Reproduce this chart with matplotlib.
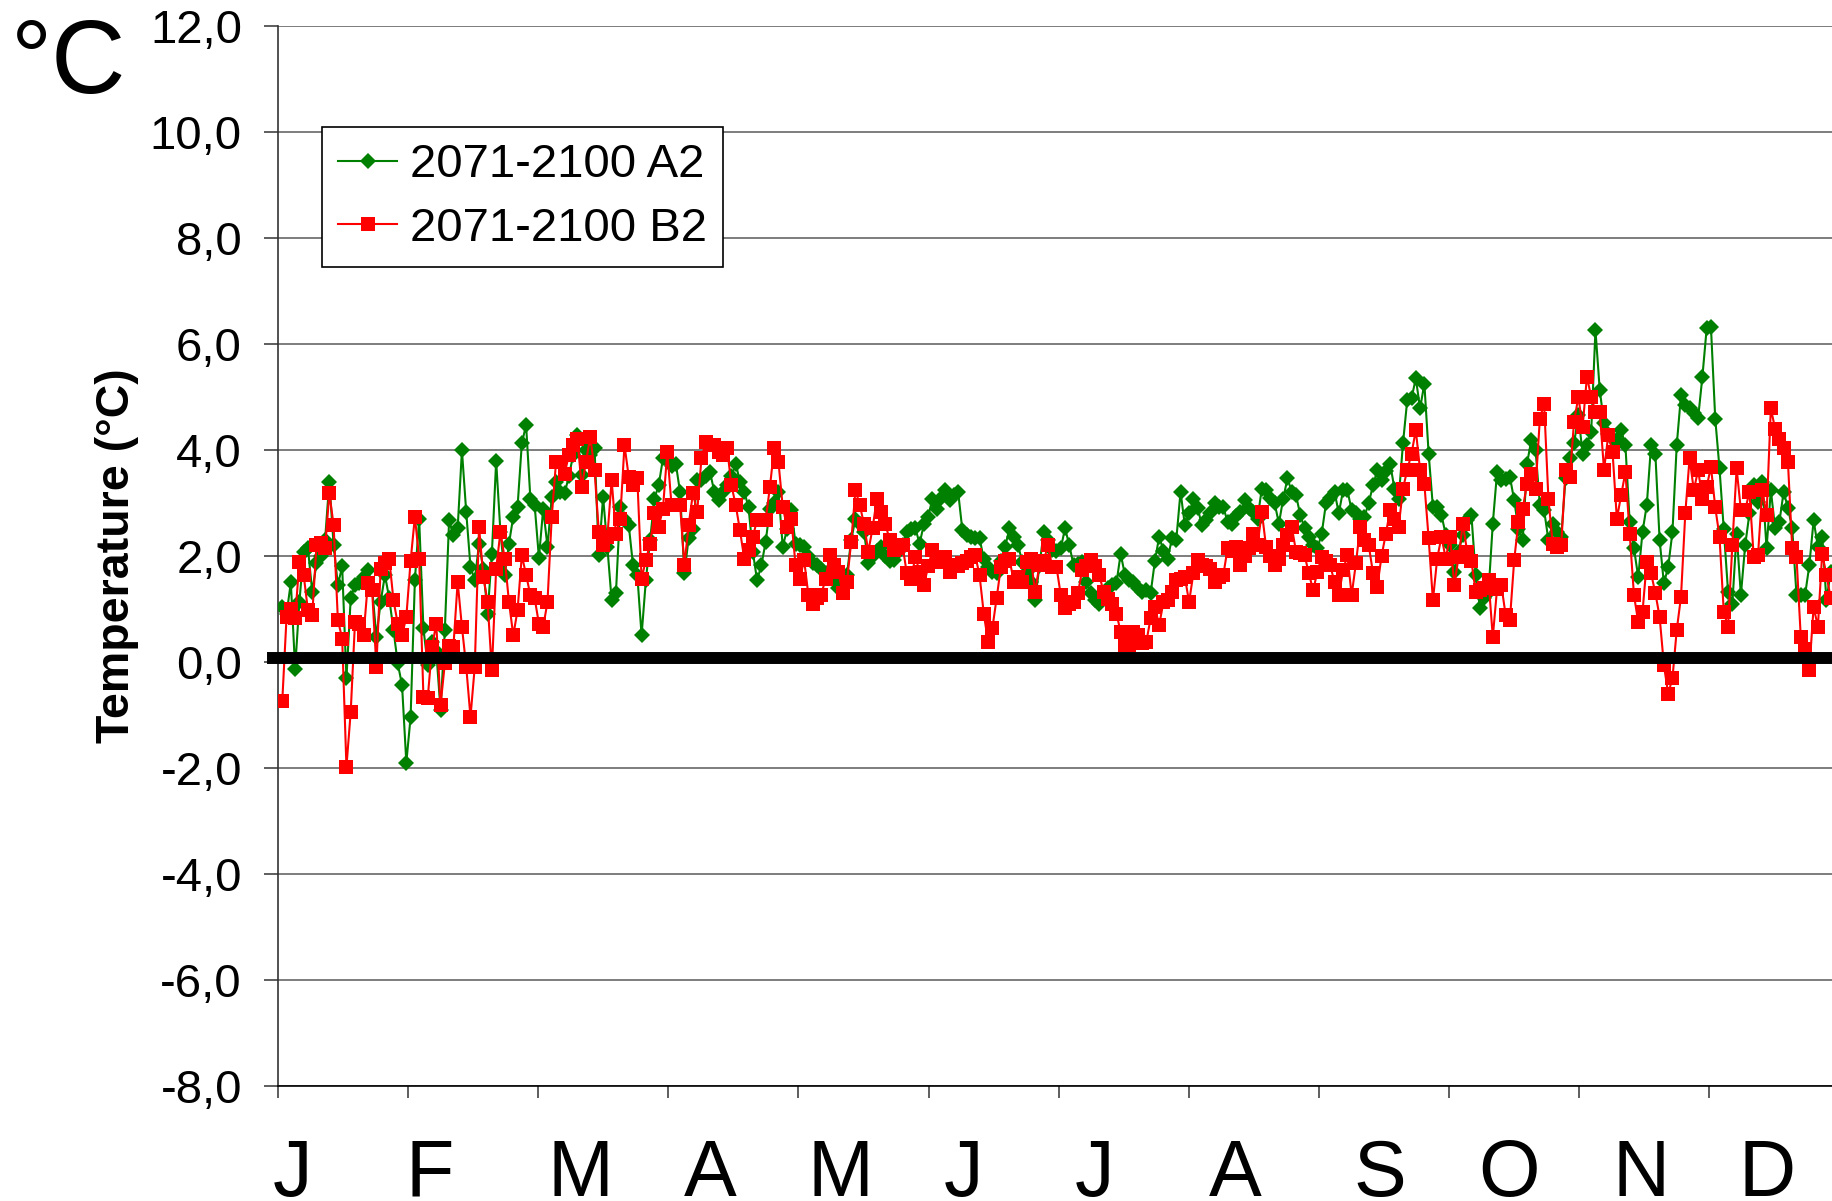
import numpy as np
import matplotlib
matplotlib.use("Agg")
import matplotlib.pyplot as plt
from matplotlib.transforms import blended_transform_factory

# month letters on the x axis
months = ['J', 'F', 'M', 'A', 'M', 'J', 'J', 'A', 'S', 'O', 'N', 'D']
y_ticks = [-8, -6, -4, -2, 0, 2, 4, 6, 8, 10, 12]
series_names = ['2071-2100 A2', '2071-2100 B2']

# daily values (°C)
a2 = [
    1.04, 0.9, 1.5, -0.13, 1.13, 2.08, 2.14, 1.32, 1.86, 2.0,
    2.3, 3.4, 2.2, 1.45, 1.8, -0.31, 1.2, 1.45, 1.48, 1.6,
    1.73, 1.4, 0.47, 1.13, 1.64, 1.2, 0.6, -0.03, -0.44, -1.9,
    -1.04, 1.54, 2.7, 0.63, -0.06, 0.38, 0.2, -0.91, 0.6, 2.67,
    2.39, 2.52, 3.99, 2.83, 1.79, 1.54, 2.23, 1.76, 0.91, 2.04,
    3.79, 2.45, 1.64, 2.23, 2.74, 2.92, 4.12, 4.47, 3.08, 2.96,
    1.96, 2.89, 2.17, 3.11, 3.4, 3.2, 3.18, 3.5, 3.9, 4.28,
    3.52, 3.99, 3.9, 4.03, 2.01, 3.11, 2.17, 1.16, 1.29, 2.92,
    2.7, 2.58, 1.82, 1.64, 0.5, 1.54, 2.3, 3.08, 3.33, 3.84,
    3.8, 3.7, 3.74, 3.2, 1.67, 2.33, 2.5, 3.43, 3.43, 3.5,
    3.58, 3.21, 3.05, 3.2, 3.33, 3.5, 3.74, 3.4, 3.21, 2.92,
    2.08, 1.54, 1.82, 2.26, 2.89, 3.0, 3.21, 2.17, 2.5, 2.86,
    2.23, 2.2, 2.17, 2.0, 1.86, 1.82, 1.75, 1.67, 1.6, 1.57,
    1.4, 1.5, 1.64, 2.3, 2.7, 2.6, 2.45, 1.86, 2.0, 2.1,
    2.17, 2.0, 1.9, 1.92, 2.08, 2.2, 2.45, 2.5, 2.52, 2.23,
    2.6, 2.74, 3.08, 2.89, 3.1, 3.24, 3.05, 3.15, 3.21, 2.48,
    2.39, 2.35, 2.33, 2.33, 1.95, 1.79, 1.7, 1.67, 1.9, 2.17,
    2.52, 2.35, 2.2, 1.89, 1.7, 1.5, 1.16, 1.8, 2.45, 2.3,
    2.11, 2.1, 2.14, 2.52, 2.2, 1.82, 1.85, 1.89, 1.5, 1.3,
    1.16, 1.1, 1.25, 1.4, 1.45, 1.48, 2.04, 1.64, 1.55, 1.51,
    1.4, 1.32, 1.35, 1.29, 1.9, 2.36, 2.1, 1.95, 2.33, 2.3,
    3.21, 2.58, 2.8, 3.08, 2.9, 2.58, 2.67, 2.8, 2.99, 2.92,
    2.92, 2.64, 2.61, 2.75, 2.83, 3.05, 2.9, 2.83, 2.7, 3.27,
    3.24, 3.1, 2.99, 2.61, 3.08, 3.46, 3.21, 3.14, 2.77, 2.52,
    2.36, 2.2, 2.14, 2.42, 2.99, 3.1, 3.21, 2.8, 3.24, 3.24,
    2.86, 2.8, 2.7, 2.74, 3.0, 3.33, 3.62, 3.43, 3.6, 3.74,
    3.27, 3.08, 4.12, 4.94, 4.97, 5.35, 4.78, 5.25, 3.93, 2.92,
    2.92, 2.77, 2.4, 2.2, 1.7, 2.08, 2.4, 2.67, 2.77, 1.64,
    1.01, 1.2, 1.32, 2.61, 3.58, 3.43, 3.45, 3.49, 3.05, 2.5,
    2.3, 3.74, 4.18, 4.0, 2.96, 2.86, 2.3, 2.61, 2.45, 2.36,
    3.46, 3.84, 4.12, 4.65, 3.93, 4.1, 4.34, 6.26, 5.13, 4.5,
    4.3, 4.21, 4.18, 4.37, 4.09, 2.64, 2.14, 1.6, 2.45, 2.96,
    4.09, 3.93, 2.3, 1.48, 1.79, 2.45, 4.09, 5.03, 4.84, 4.78,
    4.69, 4.6, 5.38, 6.29, 6.32, 4.59, 3.65, 2.5, 1.32, 1.1,
    2.42, 1.26, 2.2, 2.8, 3.33, 3.02, 3.4, 2.14, 3.24, 2.52,
    2.64, 3.21, 2.9, 2.52, 1.26, 1.26, 1.26, 1.82, 2.67, 2.17,
    2.36, 1.16, 1.7,
]

b2 = [
    -0.74, 0.85, 1.0, 0.82, 1.89, 1.64, 0.97, 0.88, 2.2, 2.25,
    2.14, 3.18, 2.58, 0.79, 0.44, -1.98, -0.94, 0.75, 0.72, 0.5,
    1.48, 1.35, -0.09, 1.76, 1.86, 1.95, 1.16, 0.72, 0.5, 0.85,
    1.9, 2.74, 1.95, -0.66, -0.69, 0.28, 0.72, -0.82, -0.03, 0.3,
    0.28, 1.51, 0.66, -0.09, -1.04, -0.09, 2.55, 1.6, 1.13, -0.16,
    1.76, 2.45, 1.95, 1.13, 0.5, 0.97, 2.01, 1.64, 1.26, 1.2,
    0.72, 0.66, 1.13, 2.74, 3.77, 3.77, 3.55, 3.9, 4.1, 4.21,
    3.3, 3.77, 4.25, 3.62, 2.45, 2.2, 2.36, 3.43, 2.42, 2.7,
    4.09, 3.49, 3.33, 3.46, 1.57, 1.92, 2.23, 2.8, 2.55, 2.89,
    3.96, 2.96, 2.96, 2.96, 1.82, 2.58, 3.18, 2.83, 3.84, 4.15,
    4.1, 4.09, 3.95, 3.9, 4.03, 3.33, 2.96, 2.48, 1.95, 2.11,
    2.36, 2.67, 2.67, 2.67, 3.3, 4.03, 3.77, 2.92, 2.55, 2.7,
    1.82, 1.57, 1.92, 1.26, 1.1, 1.2, 1.26, 1.57, 2.01, 1.82,
    1.7, 1.29, 1.5, 2.26, 3.24, 2.96, 2.6, 2.08, 2.52, 3.08,
    2.83, 2.6, 2.3, 2.11, 2.15, 2.2, 1.67, 1.57, 1.98, 1.7,
    1.45, 1.8, 2.11, 1.89, 1.9, 1.98, 1.7, 1.82, 1.8, 1.86,
    1.9, 1.98, 2.01, 1.64, 0.91, 0.38, 0.63, 1.2, 1.79, 1.9,
    1.95, 1.51, 1.6, 1.51, 1.89, 1.95, 1.32, 1.82, 1.9, 2.2,
    1.79, 1.79, 1.26, 1.01, 1.1, 1.13, 1.29, 1.73, 1.8, 1.92,
    1.8, 1.64, 1.32, 1.19, 1.1, 0.91, 0.57, 0.31, 0.31, 0.57,
    0.5, 0.35, 0.38, 0.82, 1.04, 0.69, 1.13, 1.16, 1.32, 1.54,
    1.57, 1.6, 1.13, 1.67, 1.92, 1.82, 1.8, 1.76, 1.51, 1.6,
    1.64, 2.14, 2.1, 2.17, 1.82, 2.0, 2.14, 2.42, 2.2, 2.83,
    2.17, 2.0, 1.82, 1.95, 2.2, 2.39, 2.55, 2.08, 2.05, 2.01,
    1.67, 1.35, 1.7, 1.98, 1.9, 1.82, 1.5, 1.26, 1.73, 2.01,
    1.26, 1.86, 2.55, 2.3, 2.2, 1.67, 1.42, 2.0, 2.42, 2.86,
    2.7, 2.55, 3.27, 3.62, 3.93, 4.37, 3.62, 3.36, 2.33, 1.16,
    1.95, 2.36, 1.95, 2.36, 1.45, 1.98, 2.61, 2.08, 1.9, 1.32,
    1.35, 1.4, 1.54, 0.47, 1.38, 1.45, 0.88, 0.79, 1.92, 2.64,
    2.89, 3.36, 3.55, 3.27, 4.59, 4.87, 3.08, 2.23, 2.17, 2.2,
    3.62, 3.49, 4.53, 5.0, 4.43, 5.38, 5.0, 4.72, 4.72, 3.62,
    4.28, 3.96, 2.7, 3.14, 3.58, 2.42, 1.26, 0.75, 0.94, 1.89,
    1.67, 1.3, 0.85, -0.06, -0.6, -0.31, 0.6, 1.23, 2.8, 3.84,
    3.24, 3.62, 3.08, 3.3, 3.68, 2.92, 2.36, 0.94, 0.66, 2.2,
    3.65, 2.86, 2.86, 3.21, 1.98, 2.01, 3.24, 2.77, 4.78, 4.4,
    4.21, 4.03, 3.77, 2.14, 1.98, 0.47, 0.25, -0.16, 1.04, 0.66,
    2.04, 1.64, 1.2,
]

plt.rcParams['font.family'] = ['Liberation Sans', 'DejaVu Sans']

W, H = 1832, 1201
fig = plt.figure(figsize=(W / 100, H / 100), dpi=100)
# plot area: left spine at x=278px, 12,0 at y=26px, -8,0 at y=1086px; cut off on the right
ax = fig.add_axes([278 / W, 1 - 1086 / H, 1 - 278 / W, (1086 - 25.7) / H])

days_a = np.arange(1, len(a2) + 1)
days_b = np.arange(1, len(b2) + 1)

ax.plot(days_a, a2, color='#008000', lw=1.5, marker='D', markersize=8,
        markeredgewidth=0, label=series_names[0], zorder=3)
ax.plot(days_b, b2, color='#ff0000', lw=1.5, marker='s', markersize=10.5,
        markeredgewidth=0, label=series_names[1], zorder=4)

# heavy zero line
ax.axhline(0.08, xmin=-0.003, color='black', lw=8.6, zorder=5, clip_on=False)

ax.set_xlim(0, 363.3)
ax.set_ylim(-8, 12)

ax.set_yticks(y_ticks)
ax.set_yticklabels([f"{v:.1f}".replace('.', ',') for v in y_ticks])
ax.yaxis.grid(True, color='#5a5a5a', lw=1.1)
ax.set_axisbelow(True)

ax.set_xticks([k * 365 / 12 for k in range(12)])
ax.set_xticklabels([])
ax.tick_params(axis='x', direction='out', length=8.5, width=1.1, color='#333333')
ax.tick_params(axis='y', direction='out', length=10, width=1.1, color='#333333',
               labelsize=34, pad=16)

for side in ['top', 'right']:
    ax.spines[side].set_visible(False)
ax.spines['left'].set_color('#333333')
ax.spines['left'].set_linewidth(1.2)
ax.spines['bottom'].set_color('black')
ax.spines['bottom'].set_linewidth(1.2)

# month letters sit a little right of each tick
label_days = [3.3, 35.5, 70.7, 101.1, 131.6, 160.3, 190.9, 223.7, 257.5, 287.8, 318.7, 348.2]
trans = blended_transform_factory(ax.transData, ax.transAxes)
for m, xd in zip(months, label_days):
    ax.text(xd, -0.1035, m, transform=trans, fontsize=57, ha='center', va='baseline')

fig.text(11 / W, 1 - 93 / H, '°C', fontsize=74, ha='left', va='baseline')
fig.text(117 / W, 1 - 556 / H, 'Temperature (°C)', rotation=90, fontsize=33.5,
         fontweight='bold', ha='center', va='center')

leg = ax.legend(loc='upper left', bbox_to_anchor=(322 / W, 1 - 127 / H),
                bbox_transform=fig.transFigure, borderaxespad=0, fontsize=34,
                frameon=True, fancybox=False, framealpha=1, edgecolor='black',
                handlelength=1.25, handletextpad=0.28, borderpad=0.34,
                labelspacing=0.42)
leg.get_frame().set_linewidth(1.2)
leg.set_zorder(6)

fig.savefig('out.png', dpi=100)
